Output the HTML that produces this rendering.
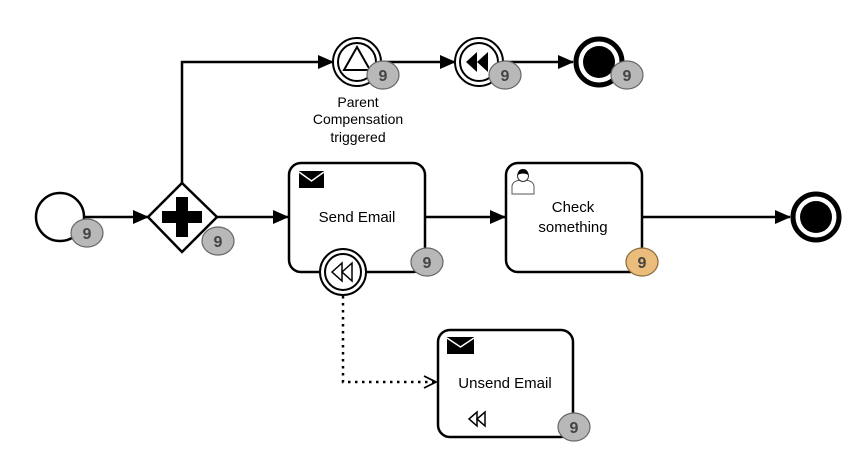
<!DOCTYPE html>
<html><head><style>
html,body{margin:0;padding:0;background:#fff;}
svg{display:block;font-family:"Liberation Sans",Arial,sans-serif;}
</style></head><body>
<svg width="860" height="461" viewBox="0 0 860 461" xmlns="http://www.w3.org/2000/svg">
<defs>
<marker id="a" markerWidth="16" markerHeight="14" refX="15" refY="7" orient="auto" markerUnits="userSpaceOnUse">
<path d="M0,0 L16,7 L0,14 Z" fill="#000"/></marker>
<marker id="o" markerWidth="14" markerHeight="14" refX="13" refY="7" orient="auto" markerUnits="userSpaceOnUse">
<path d="M1,1 L13,7 L1,13" fill="none" stroke="#000" stroke-width="1.8"/></marker>
</defs>
<g fill="none" stroke="#000" stroke-width="2.5">
<line x1="85" y1="217" x2="148" y2="217" marker-end="url(#a)"/>
<polyline points="182,183 182,62 333,62" marker-end="url(#a)"/>
<line x1="382" y1="62" x2="455" y2="62" marker-end="url(#a)"/>
<line x1="503" y1="62" x2="573" y2="62" marker-end="url(#a)"/>
<line x1="217" y1="217" x2="288" y2="217" marker-end="url(#a)"/>
<line x1="425" y1="217" x2="505" y2="217" marker-end="url(#a)"/>
<line x1="642" y1="217" x2="790" y2="217" marker-end="url(#a)"/>
</g>
<polyline points="343,296 343,382 436,382" fill="none" stroke="#000" stroke-width="2.5" stroke-dasharray="2.5,4.5" marker-end="url(#o)"/>
<circle cx="60" cy="217" r="24" fill="#fff" stroke="#000" stroke-width="2.5"/>
<polygon points="182,183 217,217 182,252 148,217" fill="#fff" stroke="#000" stroke-width="2.5"/>
<rect x="176" y="197" width="12" height="40" fill="#000"/>
<rect x="162" y="211" width="40" height="12" fill="#000"/>
<circle cx="357" cy="62" r="24" fill="#fff" stroke="#000" stroke-width="2"/>
<circle cx="357" cy="62" r="19" fill="none" stroke="#000" stroke-width="2"/>
<polygon points="357,47 370,70 344,70" fill="#fff" stroke="#000" stroke-width="2"/>
<circle cx="479" cy="62" r="24" fill="#fff" stroke="#000" stroke-width="2"/>
<circle cx="479" cy="62" r="19" fill="none" stroke="#000" stroke-width="2"/>
<polygon points="466,62 477,52 477,72" fill="#000"/>
<polygon points="477,62 488,52 488,72" fill="#000"/>
<circle cx="599" cy="62" r="23" fill="#fff" stroke="#000" stroke-width="5"/>
<circle cx="599" cy="62" r="16" fill="#000"/>
<text x="358" y="107" font-size="14" text-anchor="middle">Parent</text>
<text x="358" y="124" font-size="14" text-anchor="middle">Compensation</text>
<text x="358" y="142" font-size="14" text-anchor="middle">triggered</text>
<rect x="289" y="163" width="136" height="109" rx="12" fill="#fff" stroke="#000" stroke-width="2.5"/>
<rect x="299" y="171" width="25" height="17" fill="#000"/>
<polyline points="299,172 311.5,181 324,172" fill="none" stroke="#fff" stroke-width="1.5"/>
<text x="357" y="222" font-size="15" text-anchor="middle">Send Email</text>
<rect x="506" y="163" width="136" height="109" rx="12" fill="#fff" stroke="#000" stroke-width="2.5"/>
<path d="M512,194 L512,186 Q513,180 523,180 Q533,180 534,186 L534,194 Z" fill="#fff" stroke="#555" stroke-width="1"/>
<circle cx="523" cy="176" r="5.5" fill="#fff" stroke="#333" stroke-width="1"/>
<path d="M517.5,175 Q518,169 523,169 Q528,169 528.5,175 Q523,172 517.5,175 Z" fill="#000"/>
<text x="573" y="212" font-size="15" text-anchor="middle">Check</text>
<text x="573" y="232" font-size="15" text-anchor="middle">something</text>
<rect x="438" y="330" width="135" height="107" rx="12" fill="#fff" stroke="#000" stroke-width="2.5"/>
<rect x="447" y="337" width="27" height="17" fill="#000"/>
<polyline points="447,338 460.5,347 474,338" fill="none" stroke="#fff" stroke-width="1.5"/>
<text x="505" y="388" font-size="15" text-anchor="middle">Unsend Email</text>
<polygon points="469,419 477,412 477,426" fill="none" stroke="#000" stroke-width="1.5"/>
<polygon points="477,419 485,412 485,426" fill="none" stroke="#000" stroke-width="1.5"/>
<circle cx="343" cy="272" r="23" fill="#fff" stroke="#000" stroke-width="2"/>
<circle cx="343" cy="272" r="18" fill="none" stroke="#000" stroke-width="2"/>
<polygon points="332,272 342,263 342,281" fill="none" stroke="#000" stroke-width="1.5"/>
<polygon points="342,272 352,263 352,281" fill="none" stroke="#000" stroke-width="1.5"/>
<circle cx="816" cy="217" r="23" fill="#fff" stroke="#000" stroke-width="5"/>
<circle cx="816" cy="217" r="16" fill="#000"/>
<g stroke="#666" stroke-width="1.2" fill="#b8b8b8">
<ellipse cx="87" cy="233" rx="16" ry="14"/>
<ellipse cx="218" cy="241" rx="16" ry="14"/>
<ellipse cx="383" cy="75" rx="16" ry="14"/>
<ellipse cx="505" cy="75" rx="16" ry="14"/>
<ellipse cx="627" cy="75" rx="16" ry="14"/>
<ellipse cx="427" cy="262" rx="16" ry="14"/>
<ellipse cx="642" cy="262" rx="16" ry="14" fill="#ebbd7c" stroke="#8a6a3a"/>
<ellipse cx="574" cy="427" rx="16" ry="14"/>
</g>
<g font-size="16" font-weight="bold" fill="#444" text-anchor="middle">
<text x="87" y="239">9</text><text x="218" y="247">9</text>
<text x="383" y="81">9</text><text x="505" y="81">9</text><text x="627" y="81">9</text>
<text x="427" y="268">9</text><text x="642" y="268">9</text><text x="574" y="433">9</text>
</g>
</svg>
</body></html>
